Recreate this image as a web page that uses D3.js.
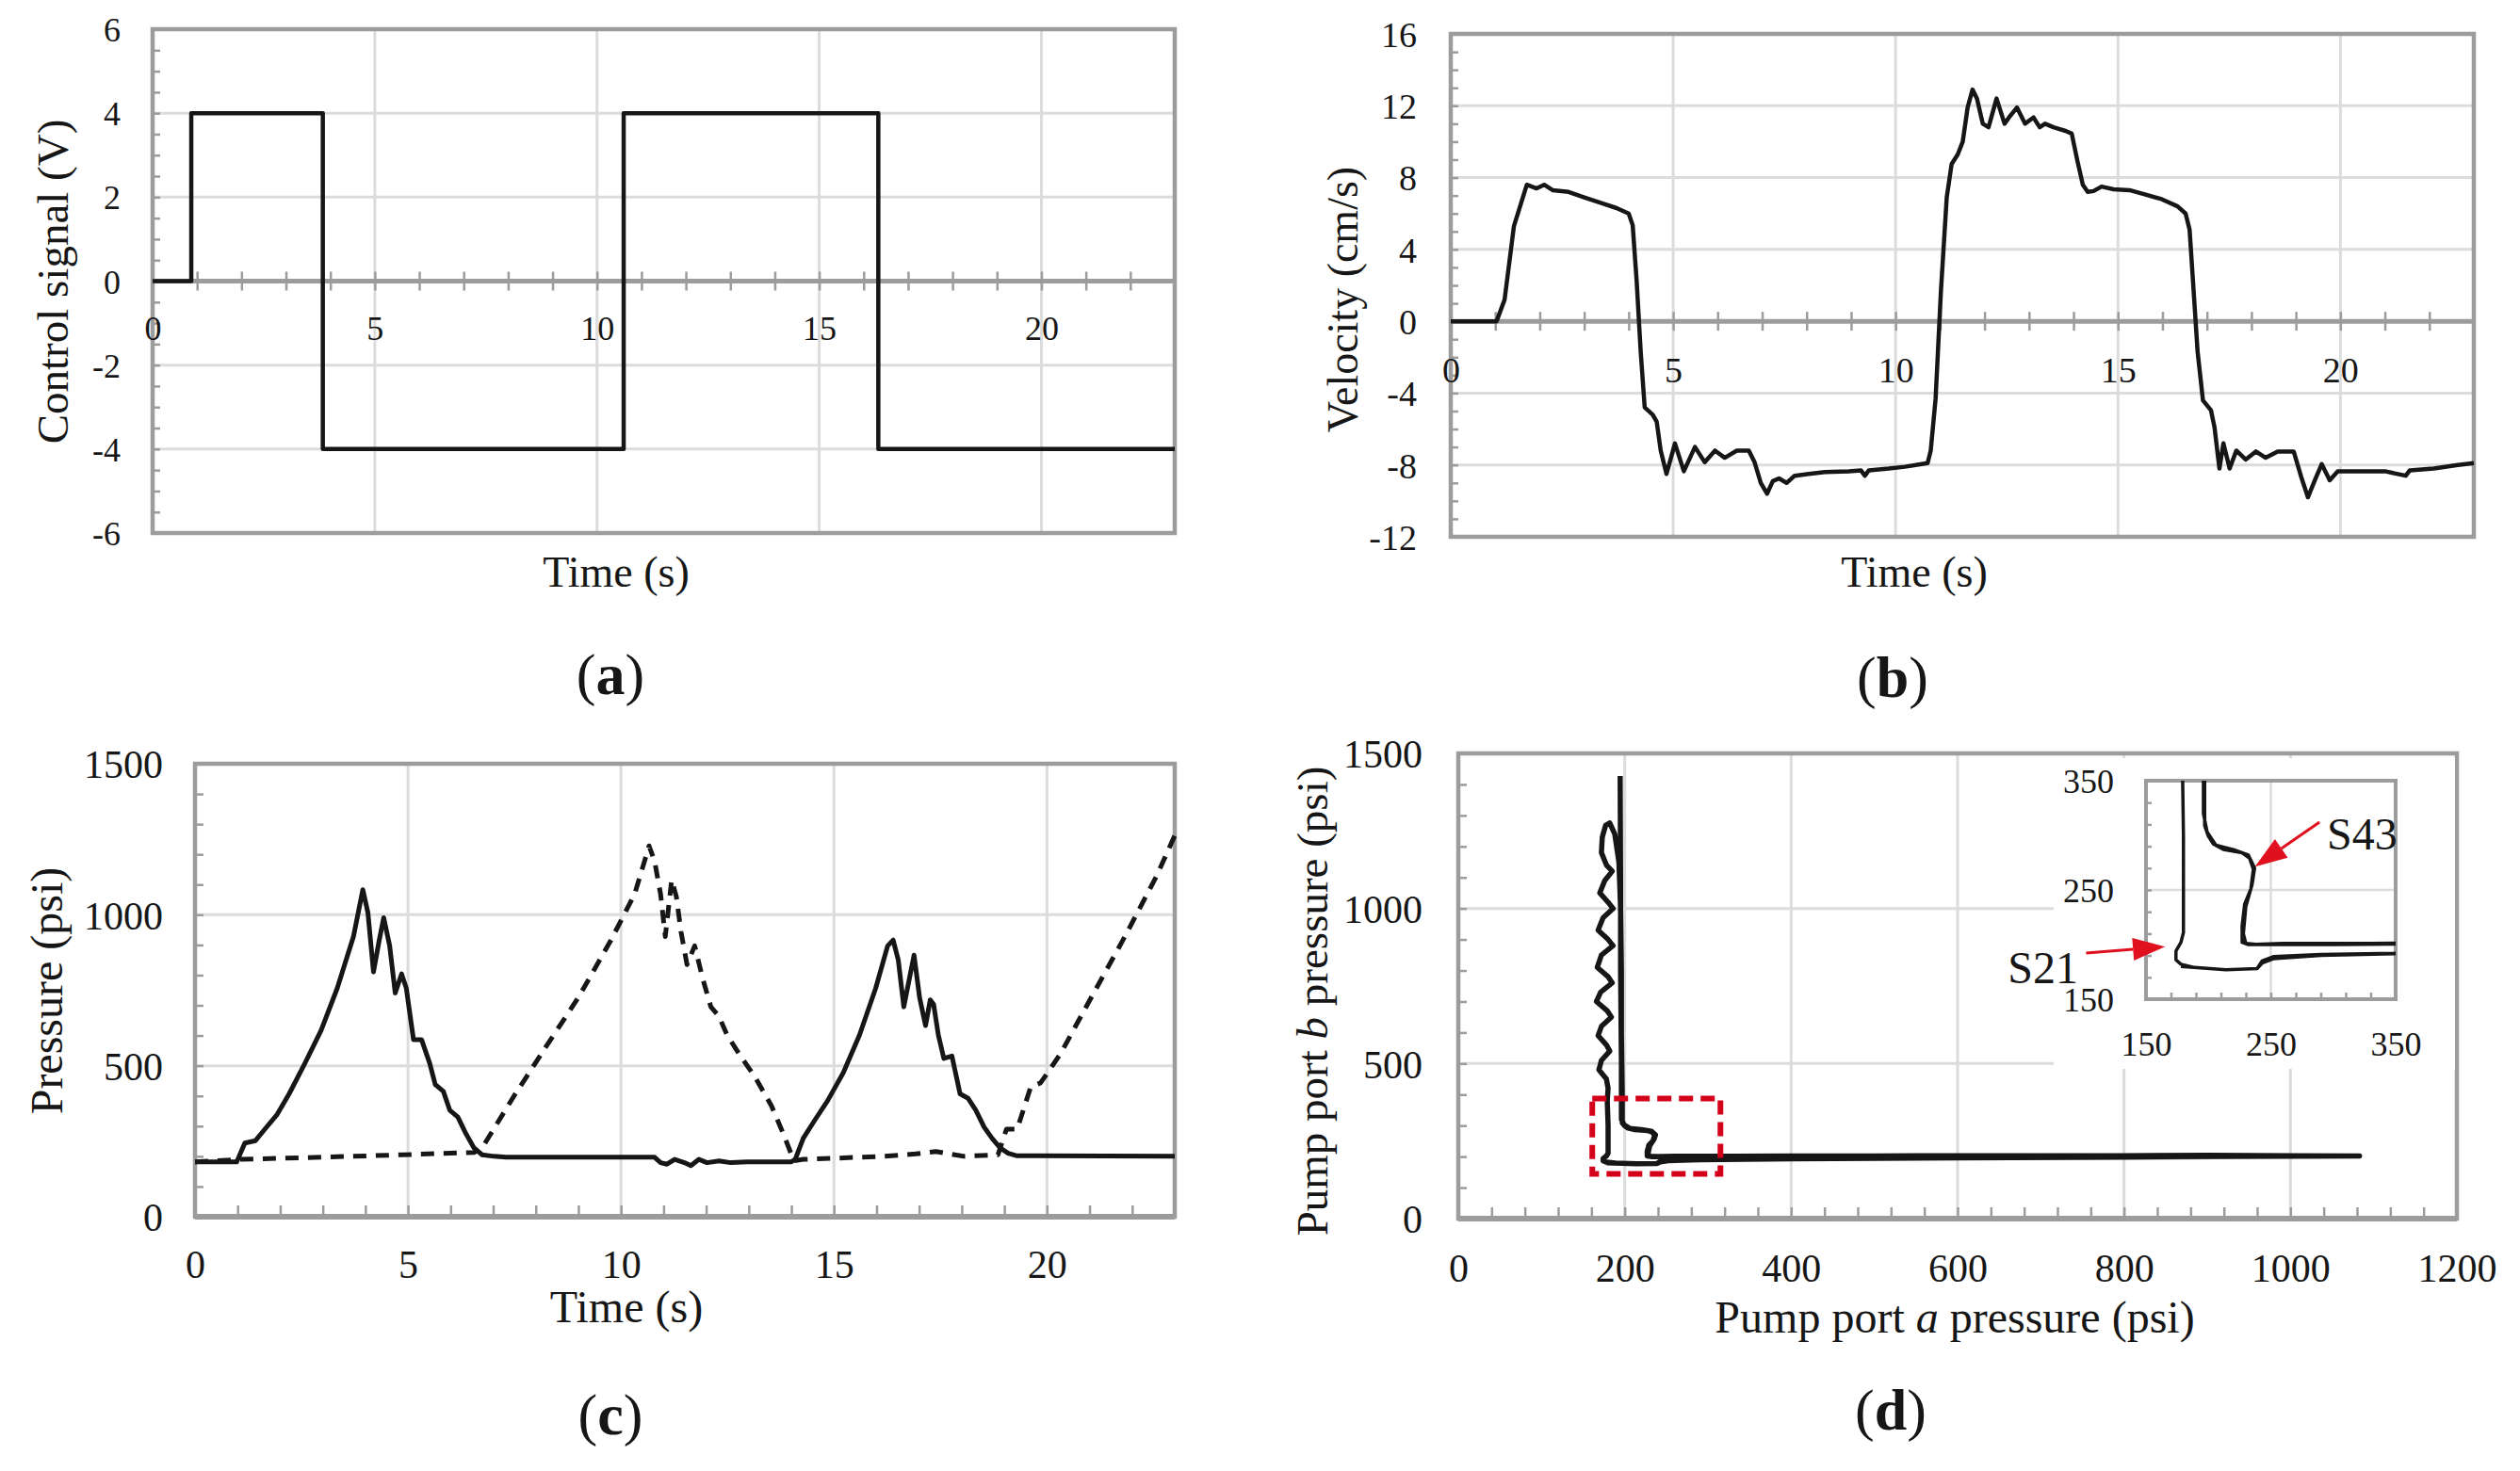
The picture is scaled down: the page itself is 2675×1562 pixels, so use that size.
<!DOCTYPE html>
<html>
<head>
<meta charset="utf-8">
<script src="https://cdnjs.cloudflare.com/ajax/libs/d3/7.8.5/d3.min.js"></script>
<style>
  body { margin: 0; background: #fff; }
  svg { display: block; }
  svg text { font-family: "Liberation Serif", "Times New Roman", serif; }
</style>
</head>
<body>
<script>
// ---- data ----
// (a) control signal, square wave
var sigTime = [0, 0.87, 0.87, 3.83, 3.83, 10.6, 10.6, 16.33, 16.33, 23];
var sigVolt = [0, 0, 4, 4, -4, -4, 4, 4, -4, -4];

// (b) velocity
var velTime = [0,1.03,1.21,1.42,1.71,1.93,2.1,2.29,2.65,3.0,3.37,3.73,4.0,4.09,4.18,4.27,4.36,4.54,4.63,4.72,4.85,5.04,5.24,5.49,5.71,5.94,6.16,6.43,6.70,6.83,6.97,7.11,7.24,7.38,7.55,7.73,8.05,8.41,8.95,9.22,9.31,9.40,9.85,10.21,10.72,10.79,10.9,11.02,11.15,11.26,11.4,11.51,11.62,11.73,11.83,11.96,12.09,12.27,12.45,12.55,12.73,12.91,13.1,13.24,13.36,13.55,13.82,13.96,14.09,14.21,14.32,14.45,14.63,14.9,15.26,15.62,15.98,16.34,16.52,16.61,16.7,16.79,16.91,17.09,17.17,17.28,17.37,17.51,17.66,17.87,18.1,18.32,18.59,18.95,19.13,19.27,19.4,19.58,19.76,19.94,20.3,21.0,21.47,21.56,22.1,22.64,23];
var velVal = [0,0,1.2,5.3,7.6,7.4,7.6,7.3,7.2,6.9,6.6,6.3,6.0,5.35,2.2,-1.7,-4.8,-5.2,-5.6,-7.2,-8.5,-6.8,-8.35,-7.0,-7.85,-7.2,-7.6,-7.2,-7.2,-7.85,-9.0,-9.6,-8.9,-8.75,-9.0,-8.6,-8.5,-8.4,-8.35,-8.3,-8.6,-8.3,-8.2,-8.1,-7.9,-7.2,-4.3,1.7,6.9,8.75,9.3,10.0,11.9,12.9,12.4,11.0,10.8,12.4,11.0,11.35,11.9,11.0,11.35,10.8,11.0,10.8,10.6,10.45,8.9,7.6,7.2,7.25,7.5,7.35,7.3,7.05,6.8,6.4,6.0,5.1,1.7,-1.7,-4.4,-4.95,-5.9,-8.2,-6.8,-8.2,-7.2,-7.7,-7.25,-7.6,-7.25,-7.25,-8.75,-9.8,-9.0,-7.95,-8.85,-8.35,-8.35,-8.35,-8.6,-8.3,-8.2,-8.0,-7.9];

// (c) pressure, port a (solid) and port b (dashed)
var paTime = [0,0.98,1.17,1.42,1.64,1.92,2.21,2.58,2.96,3.34,3.72,3.94,4.06,4.19,4.32,4.43,4.57,4.70,4.85,4.96,5.13,5.32,5.51,5.64,5.83,5.98,6.17,6.36,6.55,6.74,7.02,7.3,10.7,10.79,10.93,11.08,11.26,11.49,11.64,11.83,12.02,12.3,12.58,12.96,13.53,14.0,14.09,14.28,14.56,14.85,15.22,15.6,15.98,16.26,16.39,16.51,16.64,16.77,16.88,17.01,17.15,17.26,17.34,17.45,17.58,17.77,17.96,18.15,18.33,18.52,18.71,18.9,19.09,19.28,19.75,23];
var paVal = [182,182,244,252,290,337,407,508,617,757,928,1083,1006,811,912,990,897,741,804,757,586,586,508,438,415,353,330,275,228,205,200,197,197,197,179,174,190,179,169,190,179,185,179,182,182,182,190,260,322,384,477,602,757,897,916,850,695,788,866,726,633,718,703,602,524,532,407,392,353,298,260,228,210,202,202,200];
var pbTime = [0,1.08,2.96,4.85,6.55,6.74,7.49,8.24,9.0,9.75,10.32,10.66,10.79,10.93,11.04,11.19,11.30,11.41,11.55,11.73,11.92,12.11,12.3,12.49,12.77,13.15,13.53,13.81,14.06,14.28,16.17,16.92,17.39,18.05,18.85,19.05,19.3,19.62,19.85,20.32,21.07,21.83,22.58,23];
var pbVal = [182,190,197,205,213,228,400,563,726,912,1068,1228,1177,1068,928,1115,1060,943,835,897,788,695,664,602,540,462,368,275,185,190,200,208,216,200,205,290,290,430,443,540,734,928,1130,1262];

// (d) port b pressure against port a pressure, in time order
var dPortA = [178,214,239,243,252,290,400,600,800,1000,1083,
  1000,900,800,700,600,500,400,330,260,232,227,227,229,234,236,233,227,212,204,200,197,197,196,196,195,193,188,182,
  177,173,172,178,185,176,170,180,186,174,168,180,186,172,167,180,185,171,166,179,184,172,168,178,182,172,169,178,180,179,180,180,180,178,174,174,178,189,214,239,243,252,290,400,600,800,916,
  800,600,400,300,240,230,228,230,235,237,232,220,206,199,196,196,195,195,194.5];
var dPortB = [180,177,178,185,189,191,193,196,199,201,202,
  203,204,203,203,203,202,202,201,201,200,202,217,237,251,269,279,284,287,292,299,309,400,600,800,1000,1150,1240,1276,
  1268,1230,1180,1140,1120,1090,1050,1020,1000,970,930,900,880,850,810,780,760,730,700,670,650,620,590,560,540,510,480,450,420,380,300,250,211,202,194,186,182,179,177,178,183,187,190,193,196,198,200,
  201,201,201,200,200,201,210,235,255,270,282,287,291,303,320,500,800,1100,1427];

// ticks
var timeTicks = [0, 5, 10, 15, 20];
var sigTicks = [6, 4, 2, 0, -2, -4, -6];
var velTicks = [16, 12, 8, 4, 0, -4, -8, -12];
var presTicks = [0, 500, 1000, 1500];
var portATicks = [0, 200, 400, 600, 800, 1000, 1200];
var insetTicks = [150, 250, 350];

// ---- drawing ----
var SERIF = "Liberation Serif, Times New Roman, serif";
var INK = "#161616", FRAME = "#9c9c9c", GRID = "#dcdcdc", RED = "#e0101e";

var svg = d3.select("body").append("svg")
  .attr("width", 2675).attr("height", 1562);

function panel(box, xd, yd) {
  return {
    box: box,
    x: d3.scaleLinear().domain(xd).range([box.l, box.r]),
    y: d3.scaleLinear().domain(yd).range([box.b, box.t])
  };
}

function grid(p, xv, yv, w) {
  var b = p.box;
  var g = svg.append("g");
  g.selectAll(".gx").data(xv).enter().append("line")
    .attr("x1", d => p.x(d)).attr("x2", d => p.x(d))
    .attr("y1", b.t).attr("y2", b.b)
    .attr("stroke", GRID).attr("stroke-width", w || 3);
  g.selectAll(".gy").data(yv).enter().append("line")
    .attr("x1", b.l).attr("x2", b.r)
    .attr("y1", d => p.y(d)).attr("y2", d => p.y(d))
    .attr("stroke", GRID).attr("stroke-width", w || 3);
}

function frame(p, w) {
  var b = p.box;
  svg.append("rect").attr("x", b.l).attr("y", b.t)
    .attr("width", b.r - b.l).attr("height", b.b - b.t)
    .attr("fill", "none").attr("stroke", FRAME).attr("stroke-width", w || 4.5);
}

// short minor ticks pointing into the plot from the left axis
function minorY(p, vals, len) {
  svg.append("g").attr("transform", "translate(" + p.box.l + ",0)")
    .call(d3.axisRight(p.y).tickValues(vals).tickSize(len).tickFormat(""))
    .call(g => g.select(".domain").remove())
    .selectAll("line").attr("stroke", FRAME).attr("stroke-width", 2.5);
}

// minor ticks on a horizontal line at yPos (up into the plot, or crossing it)
function minorX(p, vals, yPos, len, cross) {
  var g = svg.append("g").attr("transform", "translate(0," + yPos + ")")
    .call(d3.axisBottom(p.x).tickValues(vals).tickSize(len).tickFormat(""))
    .call(g => g.select(".domain").remove());
  g.selectAll("line").attr("stroke", FRAME).attr("stroke-width", 2.5)
    .attr("y1", -len).attr("y2", cross ? len : 0);
}

function styleText(sel, fs) {
  sel.attr("font-size", fs).attr("font-family", SERIF).attr("fill", INK);
}

function labelsY(p, vals, fs, gap) {
  var g = svg.append("g").attr("transform", "translate(" + p.box.l + ",0)")
    .call(d3.axisLeft(p.y).tickValues(vals).tickSize(0).tickPadding(gap).tickFormat(d => String(d)))
    .call(g => g.select(".domain").remove());
  g.attr("font-family", SERIF);
  styleText(g.selectAll("text"), fs);
  g.selectAll("text").attr("dy", "0.35em");
}

function labelsX(p, vals, fs, yc) {
  var g = svg.append("g").attr("transform", "translate(0," + yc + ")")
    .call(d3.axisBottom(p.x).tickValues(vals).tickSize(0).tickFormat(d => String(d)))
    .call(g => g.select(".domain").remove());
  g.attr("font-family", SERIF);
  styleText(g.selectAll("text"), fs);
  g.selectAll("text").attr("y", 0).attr("dy", "0.35em");
}

function trace(p, xs, ys, w, dash, clip) {
  var pts = d3.zip(xs, ys);
  var path = svg.append("path").datum(pts)
    .attr("d", d3.line().x(d => p.x(d[0])).y(d => p.y(d[1])))
    .attr("fill", "none").attr("stroke", INK).attr("stroke-width", w)
    .attr("stroke-linejoin", "round");
  if (dash) path.attr("stroke-dasharray", dash);
  if (clip) path.attr("clip-path", "url(#" + clip + ")");
  return path;
}

function yTitle(x, y, fs, parts) {
  var t = svg.append("text").attr("transform", "translate(" + x + "," + y + ") rotate(-90)")
    .attr("text-anchor", "middle").attr("dy", "0.35em");
  styleText(t, fs);
  parts.forEach(s => t.append("tspan").text(s[0]).attr("font-style", s[1] ? "italic" : null));
}

function xTitle(x, y, fs, parts) {
  var t = svg.append("text").attr("x", x).attr("y", y).attr("text-anchor", "middle");
  styleText(t, fs);
  parts.forEach(s => t.append("tspan").text(s[0]).attr("font-style", s[1] ? "italic" : null));
}

function letter(x, y, ch) {
  var t = svg.append("text").attr("x", x).attr("y", y).attr("text-anchor", "middle");
  styleText(t, 62);
  t.append("tspan").text("(");
  t.append("tspan").text(ch).attr("font-weight", "bold");
  t.append("tspan").text(")");
}

// ---------- (a) control signal ----------
var pA = panel({l: 162, r: 1247, t: 31, b: 566}, [0, 23], [-6, 6]);
grid(pA, [5, 10, 15, 20], sigTicks);
frame(pA);
minorY(pA, d3.range(-5.5, 6, 0.5), 8);
svg.append("line").attr("x1", pA.box.l).attr("x2", pA.box.r)
  .attr("y1", pA.y(0)).attr("y2", pA.y(0)).attr("stroke", FRAME).attr("stroke-width", 5);
minorX(pA, d3.range(1, 23), pA.y(0), 10, true);
trace(pA, sigTime, sigVolt, 4.5);
labelsY(pA, sigTicks, 36, 34);
labelsX(pA, timeTicks, 36, 348);
yTitle(56, 299, 47, [["Control signal (V)"]]);
xTitle(654, 623, 46, [["Time (s)"]]);
letter(648, 737, "a");

// ---------- (b) velocity ----------
var pB = panel({l: 1540, r: 2626, t: 36, b: 570}, [0, 23], [-12, 16]);
grid(pB, [5, 10, 15, 20], velTicks);
frame(pB);
minorY(pB, d3.range(-11, 16, 1), 8);
svg.append("line").attr("x1", pB.box.l).attr("x2", pB.box.r)
  .attr("y1", pB.y(0)).attr("y2", pB.y(0)).attr("stroke", FRAME).attr("stroke-width", 5);
minorX(pB, d3.range(1, 23), pB.y(0), 10, true);
trace(pB, velTime, velVal, 4.5);
labelsY(pB, velTicks, 38, 36);
labelsX(pB, timeTicks, 38, 393);
yTitle(1425, 318, 46, [["Velocity (cm/s)"]]);
xTitle(2032, 623, 46, [["Time (s)"]]);
letter(2009, 740, "b");

// ---------- (c) pressure ----------
var pC = panel({l: 207, r: 1247, t: 811, b: 1292}, [0, 23], [0, 1500]);
grid(pC, [5, 10, 15, 20], [500, 1000]);
frame(pC);
minorY(pC, d3.range(100, 1500, 100), 9);
svg.append("line").attr("x1", pC.box.l).attr("x2", pC.box.r)
  .attr("y1", pC.box.b).attr("y2", pC.box.b).attr("stroke", FRAME).attr("stroke-width", 6);
minorX(pC, d3.range(1, 23), pC.box.b, 12, false);
trace(pC, paTime, paVal, 5);
trace(pC, pbTime, pbVal, 5, "14,10");
labelsY(pC, presTicks, 42, 34);
labelsX(pC, timeTicks, 42, 1342);
yTitle(49, 1052, 48, [["Pressure (psi)"]]);
xTitle(665, 1404, 48, [["Time (s)"]]);
letter(648, 1523, "c");

// ---------- (d) port b vs port a ----------
var pD = panel({l: 1548, r: 2608, t: 800, b: 1294}, [0, 1200], [0, 1500]);
grid(pD, [200, 400, 600, 800, 1000], [500, 1000]);
frame(pD);
minorY(pD, d3.range(100, 1500, 100), 9);
svg.append("line").attr("x1", pD.box.l).attr("x2", pD.box.r)
  .attr("y1", pD.box.b).attr("y2", pD.box.b).attr("stroke", FRAME).attr("stroke-width", 6);
minorX(pD, d3.range(40, 1200, 40), pD.box.b, 12, false);
trace(pD, dPortA, dPortB, 5.5);

// zoom window marker
svg.append("rect")
  .attr("x", pD.x(161)).attr("y", pD.y(387))
  .attr("width", pD.x(315) - pD.x(161)).attr("height", pD.y(144) - pD.y(387))
  .attr("fill", "none").attr("stroke", "#d4001a").attr("stroke-width", 6)
  .attr("stroke-dasharray", "15,8");

labelsY(pD, presTicks, 42, 38);
labelsX(pD, portATicks, 42, 1346);
yTitle(1393, 1063, 47, [["Pump port "], ["b", true], [" pressure (psi)"]]);
xTitle(2075, 1415, 48, [["Pump port "], ["a", true], [" pressure (psi)"]]);
letter(2007, 1518, "d");

// inset
svg.append("rect").attr("x", 2180).attr("y", 805).attr("width", 2606 - 2180).attr("height", 1135 - 805)
  .attr("fill", "#fff");
var pI = panel({l: 2278, r: 2543, t: 829, b: 1061}, [150, 350], [150, 350]);
svg.append("clipPath").attr("id", "insetClip").append("rect")
  .attr("x", pI.box.l).attr("y", pI.box.t)
  .attr("width", pI.box.r - pI.box.l).attr("height", pI.box.b - pI.box.t);
grid(pI, [250], [250], 2.5);
frame(pI, 4);
minorY(pI, d3.range(170, 350, 20), 6);
minorX(pI, d3.range(170, 350, 20), pI.box.b, 7, false);
trace(pI, dPortA, dPortB, 3.5, null, "insetClip");
labelsY(pI, insetTicks, 36, 34);
labelsX(pI, insetTicks, 36, 1108);

// arrows
function arrow(x1, y1, x2, y2) {
  var dx = x2 - x1, dy = y2 - y1, L = Math.sqrt(dx * dx + dy * dy);
  var ux = dx / L, uy = dy / L, hl = 34, hw = 12;
  var bx = x2 - ux * hl, by = y2 - uy * hl;
  svg.append("line").attr("x1", x1).attr("y1", y1).attr("x2", bx).attr("y2", by)
    .attr("stroke", RED).attr("stroke-width", 3);
  svg.append("path")
    .attr("d", "M" + x2 + "," + y2 + "L" + (bx - uy * hw) + "," + (by + ux * hw) +
      "L" + (bx + uy * hw) + "," + (by - ux * hw) + "Z")
    .attr("fill", RED);
}
arrow(pI.x(289), pI.y(312), pI.x(237.3), pI.y(271.4));
arrow(pI.x(102), pI.y(192.3), pI.x(165.2), pI.y(198));
styleText(svg.append("text").attr("x", 2470).attr("y", 902).text("S43"), 48);
styleText(svg.append("text").attr("x", 2206).attr("y", 1044).attr("text-anchor", "end").text("S21"), 48);
</script>
</body>
</html>
